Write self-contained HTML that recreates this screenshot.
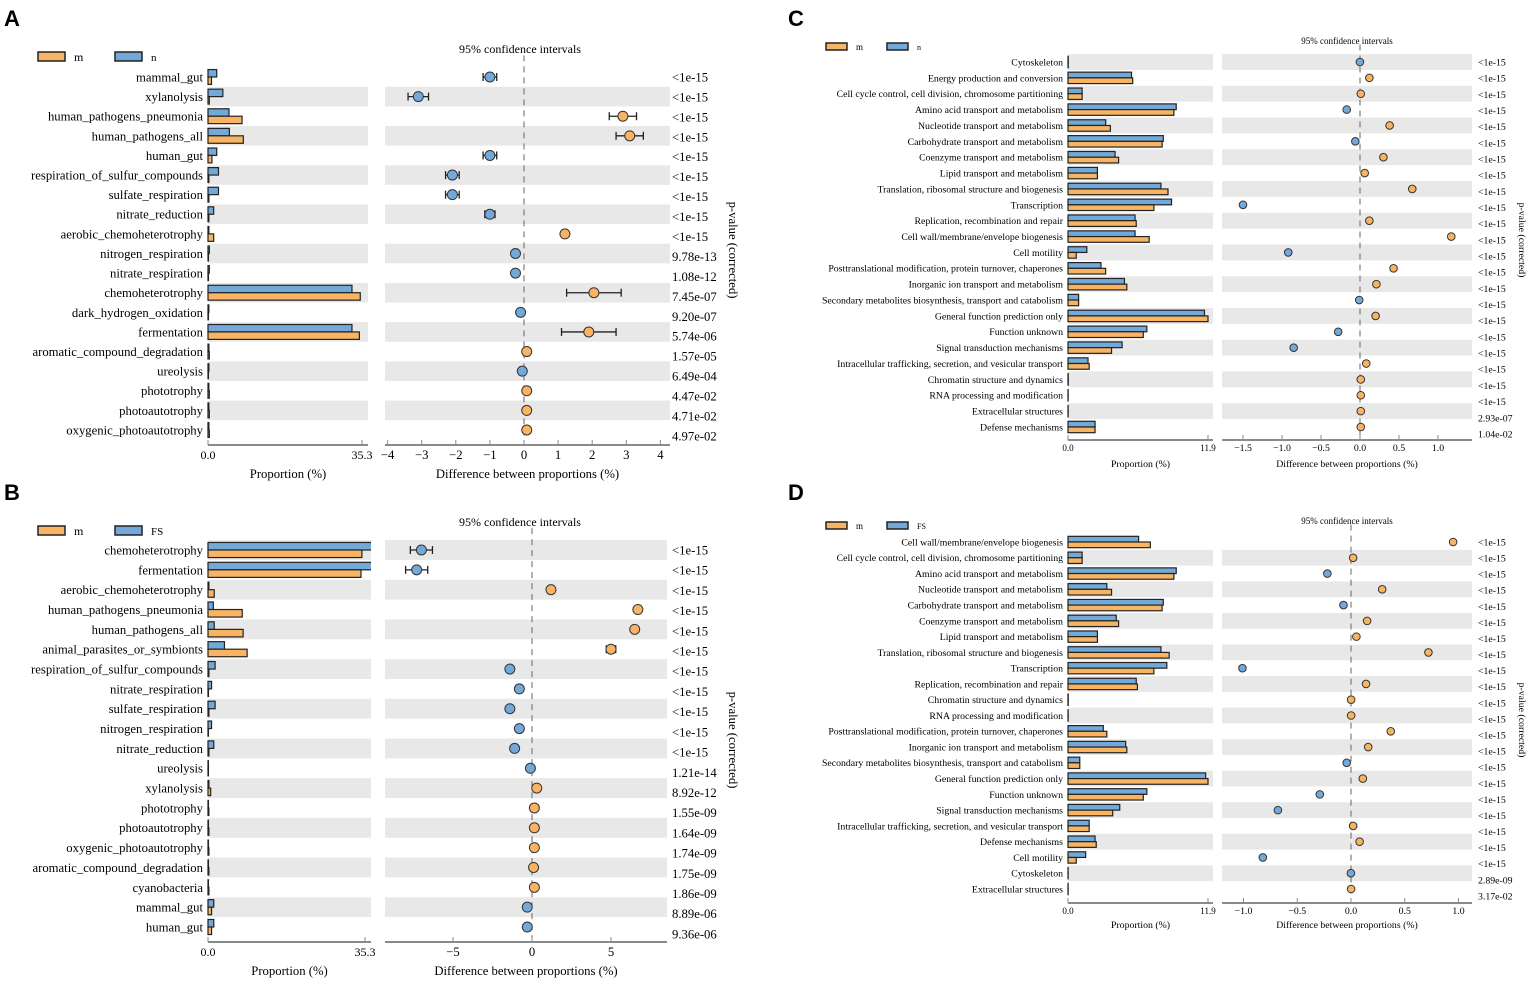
<!DOCTYPE html>
<html><head><meta charset="utf-8"><style>
html,body{margin:0;padding:0;background:#fff;}
svg{display:block;font-family:"Liberation Serif",serif;}
</style></head><body>
<svg id="fig" width="1535" height="984" viewBox="0 0 1535 984"></svg>
<script>
// ---------- Panel A data ----------
const catsA=["mammal_gut","xylanolysis","human_pathogens_pneumonia","human_pathogens_all","human_gut","respiration_of_sulfur_compounds","sulfate_respiration","nitrate_reduction","aerobic_chemoheterotrophy","nitrogen_respiration","nitrate_respiration","chemoheterotrophy","dark_hydrogen_oxidation","fermentation","aromatic_compound_degradation","ureolysis","phototrophy","photoautotrophy","oxygenic_photoautotrophy"];
const propBlueA=[2.0,3.4,4.8,4.9,2.0,2.4,2.4,1.3,0.2,0.3,0.3,33.0,0.2,33.0,0.2,0.2,0.2,0.2,0.2];
const propOrangeA=[0.8,0.3,7.8,8.1,0.9,0.2,0.2,0.2,1.3,0.1,0.1,34.9,0.1,34.7,0.3,0.1,0.3,0.3,0.3];
const diffA=[-1.0,-3.1,2.9,3.1,-1.0,-2.1,-2.1,-1.0,1.2,-0.25,-0.25,2.05,-0.1,1.9,0.08,-0.05,0.08,0.08,0.08];
const ciA=[0.2,0.3,0.4,0.4,0.2,0.2,0.2,0.15,0.05,0.05,0.05,0.8,0.05,0.8,0.03,0.03,0.03,0.03,0.03];
const pvalA=["<1e-15","<1e-15","<1e-15","<1e-15","<1e-15","<1e-15","<1e-15","<1e-15","<1e-15","9.78e-13","1.08e-12","7.45e-07","9.20e-07","5.74e-06","1.57e-05","6.49e-04","4.47e-02","4.71e-02","4.97e-02"];
const ticksA=[-4,-3,-2,-1,0,1,2,3,4];
const tickLabelsA=["−4","−3","−2","−1","0","1","2","3","4"];
// ---------- Panel B data ----------
const catsB=["chemoheterotrophy","fermentation","aerobic_chemoheterotrophy","human_pathogens_pneumonia","human_pathogens_all","animal_parasites_or_symbionts","respiration_of_sulfur_compounds","nitrate_respiration","sulfate_respiration","nitrogen_respiration","nitrate_reduction","ureolysis","xylanolysis","phototrophy","photoautotrophy","oxygenic_photoautotrophy","aromatic_compound_degradation","cyanobacteria","mammal_gut","human_gut"];
const propBlueB=[38,38,0.2,1.2,1.4,3.7,1.6,0.8,1.6,0.8,1.3,0.1,0.2,0.1,0.1,0.1,0.1,0.1,1.3,1.3];
const propOrangeB=[34.6,34.4,1.4,7.7,7.9,8.8,0.2,0.1,0.2,0.1,0.2,0.1,0.6,0.2,0.2,0.2,0.2,0.2,0.8,0.8];
const diffB=[-7.0,-7.3,1.2,6.7,6.5,5.0,-1.4,-0.8,-1.4,-0.8,-1.1,-0.1,0.3,0.15,0.15,0.15,0.1,0.15,-0.3,-0.3];
const ciB=[0.7,0.7,0.1,0.15,0.15,0.3,0.1,0.1,0.1,0.1,0.1,0.05,0.05,0.05,0.05,0.05,0.05,0.05,0.05,0.05];
const pvalB=["<1e-15","<1e-15","<1e-15","<1e-15","<1e-15","<1e-15","<1e-15","<1e-15","<1e-15","<1e-15","<1e-15","1.21e-14","8.92e-12","1.55e-09","1.64e-09","1.74e-09","1.75e-09","1.86e-09","8.89e-06","9.36e-06"];
const ticksB=[-5,0,5];
const tickLabelsB=["−5","0","5"];
// ---------- Panel C data ----------
const catsC=["Cytoskeleton","Energy production and conversion","Cell cycle control, cell division, chromosome partitioning","Amino acid transport and metabolism","Nucleotide transport and metabolism","Carbohydrate transport and metabolism","Coenzyme transport and metabolism","Lipid transport and metabolism","Translation, ribosomal structure and biogenesis","Transcription","Replication, recombination and repair","Cell wall/membrane/envelope biogenesis","Cell motility","Posttranslational modification, protein turnover, chaperones","Inorganic ion transport and metabolism","Secondary metabolites biosynthesis, transport and catabolism","General function prediction only","Function unknown","Signal transduction mechanisms","Intracellular trafficking, secretion, and vesicular transport","Chromatin structure and dynamics","RNA processing and modification","Extracellular structures","Defense mechanisms"];
const propBlueC=[0.02,5.4,1.2,9.2,3.2,8.1,4.0,2.5,7.9,8.8,5.7,5.7,1.6,2.8,4.8,0.9,11.6,6.7,4.6,1.7,0.02,0.01,0.01,2.3];
const propOrangeC=[0.02,5.5,1.2,9.0,3.6,8.0,4.3,2.5,8.5,7.3,5.8,6.9,0.7,3.2,5.0,0.9,11.9,6.4,3.7,1.8,0.02,0.01,0.01,2.3];
const diffC=[-0.001,0.12,0.01,-0.17,0.38,-0.06,0.3,0.06,0.67,-1.5,0.12,1.17,-0.92,0.43,0.21,-0.01,0.2,-0.28,-0.85,0.08,0.01,0.01,0.01,0.01];
const pvalC=["<1e-15","<1e-15","<1e-15","<1e-15","<1e-15","<1e-15","<1e-15","<1e-15","<1e-15","<1e-15","<1e-15","<1e-15","<1e-15","<1e-15","<1e-15","<1e-15","<1e-15","<1e-15","<1e-15","<1e-15","<1e-15","<1e-15","2.93e-07","1.04e-02"];
const ticksC=[-1.5,-1.0,-0.5,0,0.5,1.0];
const tickLabelsC=["−1.5","−1.0","−0.5","0.0","0.5","1.0"];
// ---------- Panel D data ----------
const catsD=["Cell wall/membrane/envelope biogenesis","Cell cycle control, cell division, chromosome partitioning","Amino acid transport and metabolism","Nucleotide transport and metabolism","Carbohydrate transport and metabolism","Coenzyme transport and metabolism","Lipid transport and metabolism","Translation, ribosomal structure and biogenesis","Transcription","Replication, recombination and repair","Chromatin structure and dynamics","RNA processing and modification","Posttranslational modification, protein turnover, chaperones","Inorganic ion transport and metabolism","Secondary metabolites biosynthesis, transport and catabolism","General function prediction only","Function unknown","Signal transduction mechanisms","Intracellular trafficking, secretion, and vesicular transport","Defense mechanisms","Cell motility","Cytoskeleton","Extracellular structures"];
const propBlueD=[6.0,1.2,9.2,3.3,8.1,4.1,2.5,7.9,8.4,5.8,0.02,0.01,3.0,4.9,1.0,11.7,6.7,4.4,1.8,2.3,1.5,0.01,0.01];
const propOrangeD=[7.0,1.2,9.0,3.7,8.0,4.3,2.5,8.6,7.3,5.9,0.02,0.01,3.3,5.0,1.0,11.9,6.4,3.8,1.8,2.4,0.7,0.01,0.01];
const diffD=[0.95,0.02,-0.22,0.29,-0.07,0.15,0.05,0.72,-1.01,0.14,0.001,0.001,0.37,0.16,-0.04,0.11,-0.29,-0.68,0.02,0.08,-0.82,-0.001,0.001];
const pvalD=["<1e-15","<1e-15","<1e-15","<1e-15","<1e-15","<1e-15","<1e-15","<1e-15","<1e-15","<1e-15","<1e-15","<1e-15","<1e-15","<1e-15","<1e-15","<1e-15","<1e-15","<1e-15","<1e-15","<1e-15","<1e-15","2.89e-09","3.17e-02"];
const ticksD=[-1.0,-0.5,0,0.5,1.0];
const tickLabelsD=["−1.0","−0.5","0.0","0.5","1.0"];

const NS="http://www.w3.org/2000/svg";
const svg=document.getElementById('fig');
const ORANGE="#F8B462",BLUE="#72A9D8",SHADE="#E8E8E8",AX="#8a8a8a";
function mk(tag,attrs,parent,text){const e=document.createElementNS(NS,tag);for(const k in attrs)e.setAttribute(k,attrs[k]);if(text!==undefined)e.textContent=text;(parent||svg).appendChild(e);return e;}

function panel(letter,cfg,cats,pb,po,diff,ci,pv,ticks,tlabels){
  const g=mk('g',{});
  
  
  const n=cats.length;
  const sp=(cfg.yLast-cfg.yFirst)/(n-1);
  const rowY=i=>cfg.yFirst+i*sp;
  const xb=v=>cfg.bx0+(v/cfg.bmax)*(cfg.bxMax-cfg.bx0);
  const xd=v=>cfg.cx0+v*cfg.cscale;
  const L=mk('text',{x:cfg.letterX,y:cfg.letterY,'font-family':'Liberation Sans, sans-serif','font-weight':'bold','font-size':22},g,letter);
  
  const lg=mk('g',{},g);
  mk('rect',{x:cfg.legX,y:cfg.legY,width:cfg.legW,height:cfg.legH,fill:ORANGE,stroke:'#222','stroke-width':1.5},lg);
  mk('text',{x:cfg.legX+cfg.legW+9,y:cfg.legY+cfg.legH,'font-size':cfg.fs},lg,'m');
  mk('rect',{x:cfg.legX+cfg.legGap,y:cfg.legY,width:cfg.legW,height:cfg.legH,fill:BLUE,stroke:'#222','stroke-width':1.5},lg);
  mk('text',{x:cfg.legX+cfg.legGap+cfg.legW+9,y:cfg.legY+cfg.legH,'font-size':cfg.fs-1},lg,cfg.bName);
  for(let i=0;i<n;i++){ if(i%2===cfg.shadeParity){
    mk('rect',{x:cfg.bx0,y:rowY(i)-sp/2,width:cfg.bShadeEnd-cfg.bx0,height:sp,fill:SHADE},g);
    mk('rect',{x:cfg.cLeft,y:rowY(i)-sp/2,width:cfg.cRight-cfg.cLeft,height:sp,fill:SHADE},g);
  }}
  mk('text',{x:cfg.ciTitleX,y:cfg.ciTitleY,'font-size':cfg.fs,'text-anchor':'middle'},g,'95% confidence intervals');
  mk('line',{x1:xd(0),x2:xd(0),y1:cfg.yFirst-sp*1.1,y2:cfg.yLast+sp*0.6,stroke:'#666','stroke-width':1,'stroke-dasharray':'6,5'},g);
  const clipId='clip'+letter;
  const cp=mk('clipPath',{id:clipId},g);mk('rect',{x:cfg.bx0-2,y:0,width:cfg.bShadeEnd-cfg.bx0+2,height:984},cp);
  const bg=mk('g',{'clip-path':'url(#'+clipId+')'},g);
  const bh=sp*cfg.barFrac;
  for(let i=0;i<n;i++){
    const y=rowY(i);
    const lab=mk('text',{x:cfg.labelRight,y:y+cfg.lfs*0.35,'font-size':cfg.lfs,'text-anchor':'end'},g,cats[i]);
    
    const b1=mk('rect',{x:cfg.bx0,y:y-bh,width:Math.max(0,xb(pb[i])-cfg.bx0),height:bh,fill:BLUE,stroke:'#222','stroke-width':1.2},bg);
    
    const b2=mk('rect',{x:cfg.bx0,y:y,width:Math.max(0,xb(po[i])-cfg.bx0),height:bh,fill:ORANGE,stroke:'#222','stroke-width':1.2},bg);
    
    if(ci){const c=ci[i];
      const eg=mk('g',{stroke:'#222','stroke-width':1.3},g);
      mk('line',{x1:xd(diff[i]-c),x2:xd(diff[i]+c),y1:y,y2:y},eg);
      mk('line',{x1:xd(diff[i]-c),x2:xd(diff[i]-c),y1:y-4,y2:y+4},eg);
      mk('line',{x1:xd(diff[i]+c),x2:xd(diff[i]+c),y1:y-4,y2:y+4},eg);
      
    }
    const d=mk('circle',{cx:xd(diff[i]),cy:y,r:cfg.dotR,fill:diff[i]<0?BLUE:ORANGE,stroke:'#333','stroke-width':1},g);
    
    const pvY=cfg.pvFirst+i*(cfg.pvLast-cfg.pvFirst)/(n-1);
    const p=mk('text',{x:cfg.pvX,y:pvY+cfg.lfs*0.35,'font-size':cfg.lfs},g,pv[i]);
    
  }
  mk('line',{x1:cfg.bx0,x2:cfg.bShadeEnd,y1:cfg.axY,y2:cfg.axY,stroke:AX,'stroke-width':2},g);
  [0,cfg.bmax].forEach((v,k)=>{mk('line',{x1:xb(v),x2:xb(v),y1:cfg.axY,y2:cfg.axY-5,stroke:AX,'stroke-width':1},g);
    mk('text',{x:xb(v),y:cfg.axY+cfg.fs+2,'font-size':cfg.fs,'text-anchor':'middle'},g,k?String(cfg.bmax):'0.0');});
  mk('text',{x:(cfg.bx0+cfg.bShadeEnd)/2,y:cfg.titleY,'font-size':cfg.lfs,'text-anchor':'middle'},g,'Proportion (%)');
  mk('line',{x1:cfg.cLeft,x2:cfg.cRight,y1:cfg.axY,y2:cfg.axY,stroke:AX,'stroke-width':2},g);
  ticks.forEach((t,k)=>{mk('line',{x1:xd(t),x2:xd(t),y1:cfg.axY,y2:cfg.axY-5,stroke:AX,'stroke-width':1},g);
    mk('text',{x:xd(t),y:cfg.axY+cfg.fs+2,'font-size':cfg.lfs,'text-anchor':'middle'},g,tlabels[k]);});
  mk('text',{x:(cfg.cLeft+cfg.cRight)/2,y:cfg.titleY,'font-size':cfg.lfs,'text-anchor':'middle'},g,'Difference between proportions (%)');
  mk('text',{x:0,y:0,'font-size':cfg.lfs,'text-anchor':'middle',transform:`translate(${cfg.pLabX},${cfg.pLabY}) rotate(90)`},g,'p-value (corrected)');
}

const base={fs:12,lfs:12.7,dotR:5,barFrac:0.38,legW:27,legH:9,legGap:77};
panel('A',Object.assign({},base,{letterX:4,letterY:26,legX:38,legY:52,bName:'n',yFirst:77,yLast:430,shadeParity:1,
  bx0:208,bxMax:362,bmax:35.3,bShadeEnd:368,cLeft:385,cRight:670,cx0:524,cscale:34.1,labelRight:203,
  pvX:672,pvFirst:77,pvLast:436,axY:445,titleY:478,ciTitleX:520,ciTitleY:53,pLabX:729,pLabY:250}),
  catsA,propBlueA,propOrangeA,diffA,ciA,pvalA,ticksA,tickLabelsA);
panel('B',Object.assign({},base,{letterX:4,letterY:500,legX:38,legY:526,bName:'FS',yFirst:550,yLast:927,shadeParity:0,
  bx0:208,bxMax:365,bmax:35.3,bShadeEnd:371,cLeft:385,cRight:667,cx0:532,cscale:15.8,labelRight:203,
  pvX:672,pvFirst:550,pvLast:934,axY:942,titleY:975,ciTitleX:520,ciTitleY:526,pLabX:729,pLabY:740}),
  catsB,propBlueB,propOrangeB,diffB,ciB,pvalB,ticksB,tickLabelsB);
const base2={fs:9,lfs:9.8,dotR:3.8,barFrac:0.36,legW:21,legH:7,legGap:61};
panel('C',Object.assign({},base2,{letterX:788,letterY:26,legX:826,legY:43,bName:'n',yFirst:62,yLast:427,shadeParity:0,
  bx0:1068,bxMax:1208,bmax:11.9,bShadeEnd:1213,cLeft:1222,cRight:1472,cx0:1360,cscale:78,labelRight:1063,
  pvX:1478,pvFirst:62,pvLast:434,axY:440,titleY:467,ciTitleX:1347,ciTitleY:44,pLabX:1519,pLabY:240}),
  catsC,propBlueC,propOrangeC,diffC,null,pvalC,ticksC,tickLabelsC);
panel('D',Object.assign({},base2,{letterX:788,letterY:500,legX:826,legY:522,bName:'FS',yFirst:542,yLast:889,shadeParity:1,
  bx0:1068,bxMax:1208,bmax:11.9,bShadeEnd:1213,cLeft:1222,cRight:1472,cx0:1351,cscale:107.5,labelRight:1063,
  pvX:1478,pvFirst:542,pvLast:896,axY:903,titleY:928,ciTitleX:1347,ciTitleY:524,pLabX:1519,pLabY:720}),
  catsD,propBlueD,propOrangeD,diffD,null,pvalD,ticksD,tickLabelsD);
</script>
</body></html>
